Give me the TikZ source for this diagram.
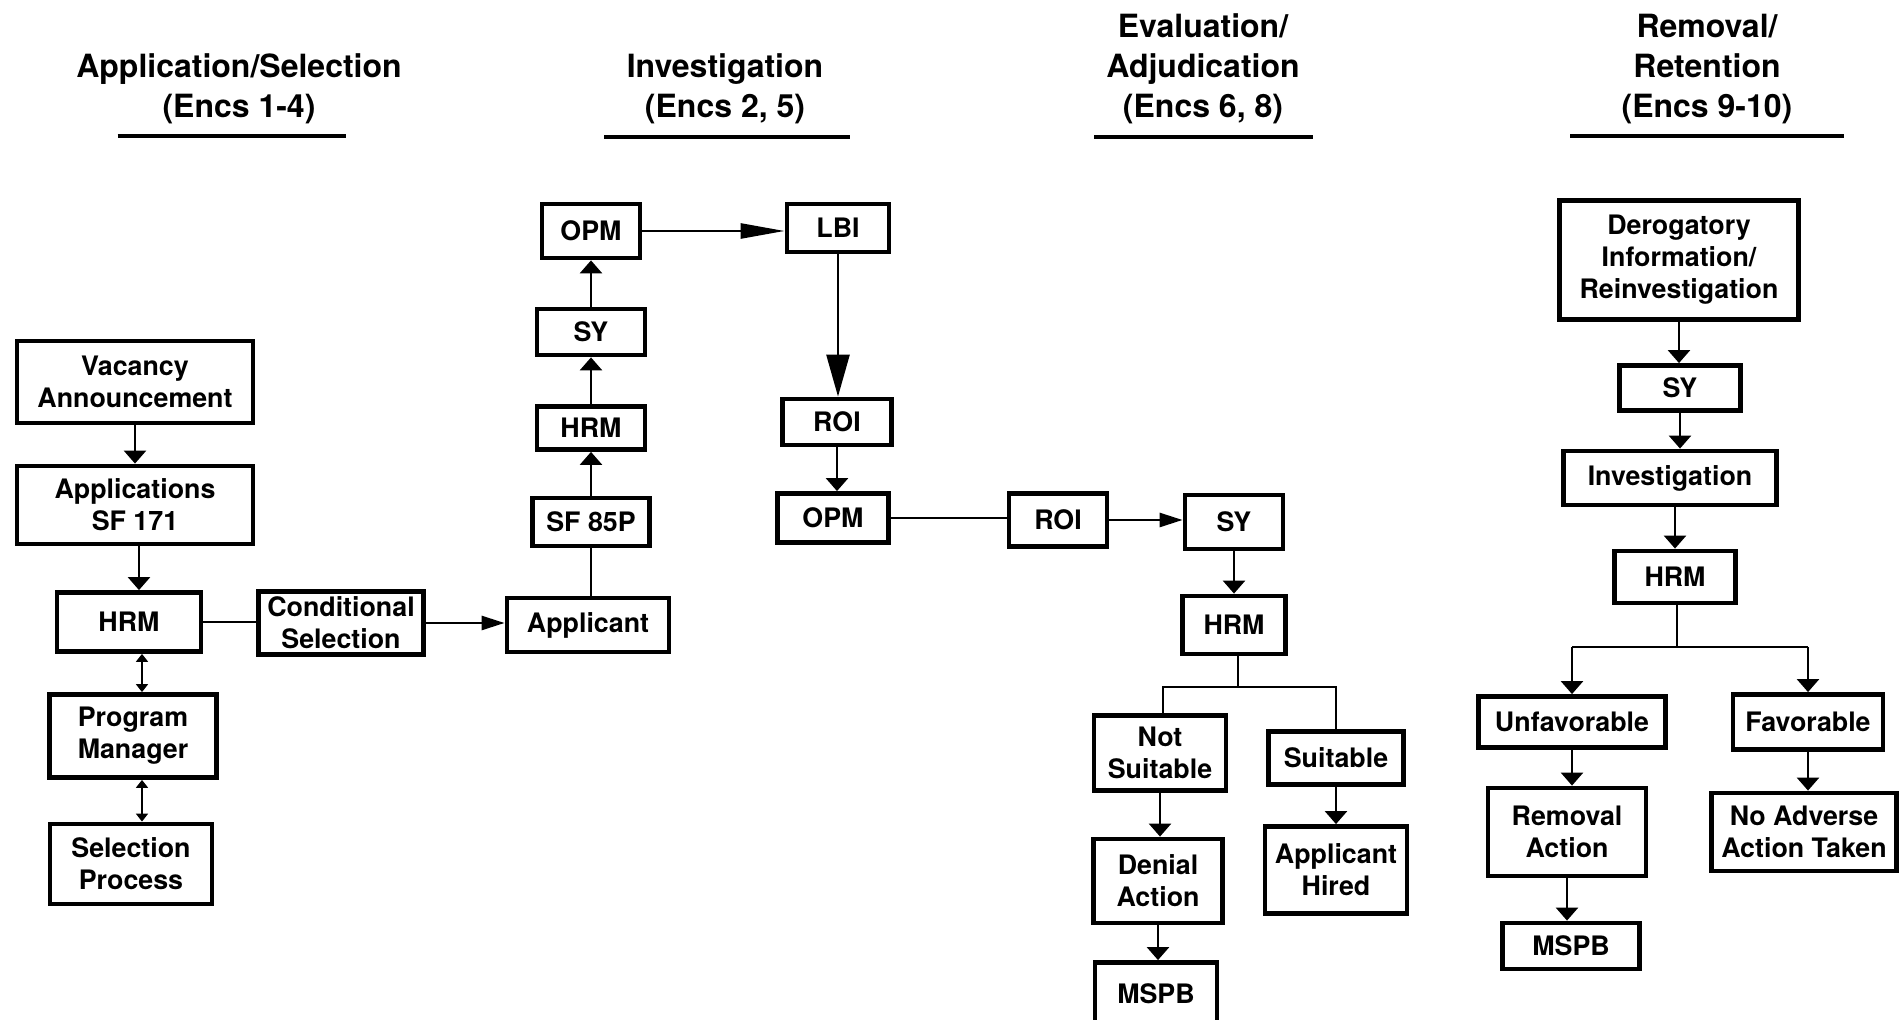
\documentclass[tikz,border=0pt]{standalone}
\usepackage{fontspec}
\setmainfont{TeX Gyre Heros}
\usetikzlibrary{arrows.meta,calc}
\begin{document}
\begin{tikzpicture}[x=0.5pt,y=-0.5pt,
  box/.style={draw, line width=2.4pt, align=center, inner sep=0pt,
    font=\fontsize{13.4}{16}\selectfont\bfseries},
  bx/.style 2 args={box, minimum width={(#1-5)*0.5pt}, minimum height={(#2-5)*0.5pt}},
  head/.style={align=center, inner sep=0pt, font=\fontsize{16}{20}\selectfont\bfseries},
  rule/.style={line width=2.4pt},
  link/.style={line width=1.3pt},
  arr/.style={link, -{Triangle[length=6.5pt,width=11pt]}},
  arrlong/.style={link, -{Triangle[length=11.5pt,width=7pt]}},
  arrxl/.style={link, -{Triangle[length=22pt,width=7.5pt]}},
  arrbig/.style={link, -{Triangle[length=21pt,width=11.5pt]}},
  dbl/.style={line width=0.9pt, {Triangle[length=4pt,width=6pt]}-{Triangle[length=4pt,width=6pt]}}
]
\fill[white] (0,0) rectangle (1902,1020);
\useasboundingbox (0,0) rectangle (1902,1020);
\clip (0,0) rectangle (1902,1020);

% column headings
\node[head] (h1) at (239,88.5) {Application/Selection\\(Encs 1-4)};
\draw[rule] (117.7,136) -- (345.7,136);
\node[head] (h2) at (725,88.5) {Investigation\\(Encs 2, 5)};
\draw[rule] (604,137) -- (850,137);
\node[head] (h3) at (1203,69) {Evaluation/\\Adjudication\\(Encs 6, 8)};
\draw[rule] (1094,137) -- (1312.5,137);
\node[head] (h4) at (1707,69) {Removal/\\Retention\\(Encs 9-10)};
\draw[rule] (1570,136) -- (1844,136);

% application / selection
\node[bx={241}{87}] (vac) at (135,382) {Vacancy\\Announcement};
\node[bx={241}{83}] (apps) at (135,505) {Applications\\SF 171};
\node[bx={149}{64}] (hrmA) at (129,622) {HRM};
\node[bx={170}{68}] (cond) at (341,623) {Conditional\\Selection};
\node[bx={172}{88}] (pm) at (133,736) {Program\\Manager};
\node[bx={167}{85}] (selp) at (131,864) {Selection\\Process};

% investigation
\node[bx={103}{59}] (opmA) at (591,231) {OPM};
\node[bx={113}{51}] (syA) at (591,332) {SY};
\node[bx={113}{48}] (hrmB) at (591,428) {HRM};
\node[bx={122}{53}] (sf) at (591,522) {SF 85P};
\node[bx={167}{59}] (appl) at (588,625) {Applicant};
\node[bx={107}{53}] (lbi) at (838,228) {LBI};
\node[bx={114}{51}] (roiA) at (837,422) {ROI};
\node[bx={116}{54}] (opmB) at (833,518) {OPM};

% evaluation / adjudication
\node[bx={103}{58}] (roiB) at (1058,520) {ROI};
\node[bx={103}{59}] (syB) at (1234,522) {SY};
\node[bx={108}{63}] (hrmC) at (1234,625) {HRM};
\node[bx={137}{80}] (nots) at (1160,753) {Not\\Suitable};
\node[bx={134}{89}] (deny) at (1158,881) {Denial\\Action};
\node[bx={127}{70}] (mspbA) at (1156,995) {\raisebox{1pt}{MSPB}};
\node[bx={140}{58}] (suit) at (1336,758) {Suitable};
\node[bx={147}{92}] (hired) at (1336,870) {Applicant\\Hired};

% removal / retention
\node[bx={244}{124}] (derog) at (1679,260) {Derogatory\\Information/\\Reinvestigation};
\node[bx={126}{50}] (syC) at (1680,388) {SY};
\node[bx={218}{59}] (inv) at (1670,478) {Investigation};
\node[bx={126}{57}] (hrmD) at (1675,577) {HRM};
\node[bx={192}{56}] (unf) at (1572,722) {Unfavorable};
\node[bx={155}{60}] (fav) at (1808,722) {Favorable};
\node[bx={163}{93}] (remo) at (1567,832) {Removal\\Action};
\node[bx={190}{83}] (noadv) at (1804,832) {No Adverse\\Action Taken};
\node[bx={142}{51}] (mspbB) at (1571,946) {MSPB};

% connectors: application / selection
\draw[arr] (vac.south) -- (apps.north);
\draw[arr] ([xshift=2pt]apps.south) -- ([xshift=2pt]apps.south |- hrmA.north);
\draw[dbl] ([xshift=6.5pt]hrmA.south) -- ([xshift=6.5pt]hrmA.south |- pm.north);
\draw[dbl] ([xshift=4.5pt]pm.south) -- ([xshift=4.5pt]pm.south |- selp.north);
\draw[link] (hrmA.east) -- (hrmA.east -| cond.west);
\draw[arrlong] (cond.east) -- (cond.east -| appl.west);

% connectors: investigation
\draw[link] (sf.south |- appl.north) -- (sf.south);
\draw[arr] (sf.north) -- (hrmB.south);
\draw[arr] (hrmB.north) -- (syA.south);
\draw[arr] (syA.north) -- (opmA.south);
\draw[arrxl] (opmA.east) -- (opmA.east -| lbi.west);
\draw[arrbig] (lbi.south) -- (lbi.south |- roiA.north);
\draw[arr] (roiA.south) -- (roiA.south |- opmB.north);

% connectors: evaluation / adjudication
\draw[link] (opmB.east) -- (opmB.east -| roiB.west);
\draw[arrlong] (roiB.east) -- (roiB.east -| syB.west);
\draw[arr] (syB.south) -- (hrmC.north);
\coordinate (brC) at (1238,687);
\draw[link] (hrmC.south -| brC) -- (brC);
\draw[link] ([xshift=1.5pt]nots.north) |- (brC) -| (suit.north);
\draw[arr] (nots.south) -- (nots.south |- deny.north);
\draw[arr] (deny.south) -- (deny.south |- mspbA.north);
\draw[arr] (suit.south) -- (suit.south |- hired.north);

% connectors: removal / retention
\draw[arr] (derog.south) -- (derog.south |- syC.north);
\draw[arr] (syC.south) -- (syC.south |- inv.north);
\draw[arr] (hrmD.north |- inv.south) -- (hrmD.north);
\coordinate (brD) at (1677,647);
\draw[link] (hrmD.south -| brD) -- (brD);
\draw[link] (unf.north |- brD) -- (fav.north |- brD);
\draw[arr] (unf.north |- brD) -- (unf.north);
\draw[arr] (fav.north |- brD) -- (fav.north);
\draw[arr] (unf.south) -- (unf.south |- remo.north);
\draw[arr] (remo.south) -- (remo.south |- mspbB.north);
\draw[arr] (fav.south) -- (fav.south |- noadv.north);
\end{tikzpicture}
\end{document}
